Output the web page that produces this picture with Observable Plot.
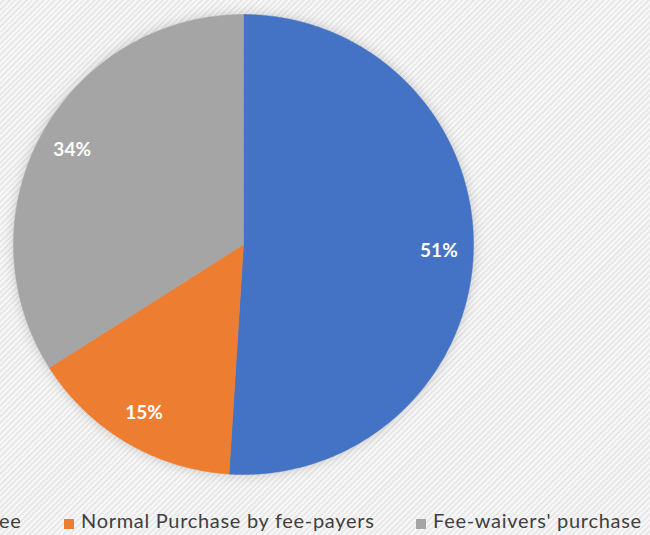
<!DOCTYPE html>
<html>
<head>
<meta charset="utf-8">
<script src="https://cdn.jsdelivr.net/npm/d3@7"></script>
<script src="https://cdn.jsdelivr.net/npm/@observablehq/plot@0.6"></script>
<style>
  html, body { margin: 0; padding: 0; }
  body {
    width: 650px; height: 535px; overflow: hidden; position: relative;
    background: repeating-linear-gradient(135deg, #f7f7f7 0px, #f7f7f7 2px, #e9e9e9 2px, #e9e9e9 4px);
    font-family: Lato, "Open Sans", sans-serif;
  }
  #chart svg { display: block; background: transparent; }
  #legend { position: absolute; left: 0; top: 500px; width: 650px; height: 35px; font-size: 20px; color: #404040; }
  .item { position: absolute; top: 8px; white-space: nowrap; letter-spacing: 0.7px; }
  .sw { display: inline-block; width: 10px; height: 10px; margin-right: 7px; vertical-align: -1px; }
</style>
</head>
<body>
<div id="chart"></div>
<div id="legend"></div>
<script>
const categories = ["Purchase by fee-waivers with waived fee", "Normal Purchase by fee-payers", "Fee-waivers' purchase"];
const shares = [51, 15, 34];
const labels = ["51%", "15%", "34%"];
const colors = ["#4472C4", "#ED7D31", "#A5A5A5"];

const data = categories.map((c, i) => ({category: c, value: shares[i], label: labels[i]}));
const arcs = d3.pie().sort(null).value(d => d.value)(data);

// polygon vertices in unit-circle data space (angle measured clockwise from 12 o'clock)
const pts = [];
arcs.forEach(a => {
  const n = Math.max(2, Math.ceil((a.endAngle - a.startAngle) / 0.01));
  pts.push({category: a.data.category, x: 0, y: 0});
  for (let k = 0; k <= n; k++) {
    const t = a.startAngle + (a.endAngle - a.startAngle) * k / n;
    pts.push({category: a.data.category, x: Math.sin(t), y: Math.cos(t)});
  }
  pts.push({category: a.data.category, x: 0, y: 0});
});
const labelPts = arcs.map(a => {
  const m = (a.startAngle + a.endAngle) / 2;
  return {label: a.data.label, x: 0.85 * Math.sin(m), y: 0.85 * Math.cos(m)};
});

const plot = Plot.plot({
  width: 650,
  height: 500,
  margin: 0,
  x: {domain: [-1, 1], range: [13, 473], axis: null},
  y: {domain: [-1, 1], range: [474, 14], axis: null},
  color: {domain: categories, range: colors},
  style: {background: "transparent", overflow: "visible"},
  marks: [
    Plot.line(pts, {x: "x", y: "y", z: "category", fill: "category", stroke: "category", strokeWidth: 0.5, curve: "linear",
      render: (i, s, v, d, c, next) => { const g = next(i, s, v, d, c); g.style.filter = "drop-shadow(0px 0px 6px rgba(0,0,0,0.18))"; return g; }}),
    Plot.text(labelPts, {x: "x", y: "y", text: "label", fill: "white", fontSize: 19, fontWeight: "bold", fontFamily: "Lato, sans-serif"})
  ]
});
document.getElementById("chart").appendChild(plot);

const legend = document.getElementById("legend");
const lefts = [-360, 64, 416];
categories.forEach((c, i) => {
  const el = document.createElement("div");
  el.className = "item";
  el.style.left = lefts[i] + "px";
  el.innerHTML = `<span class="sw" style="background:${colors[i]}"></span>${c}`;
  legend.appendChild(el);
});
// align first entry so only its end shows at left edge, as in the cropped reference
const first = legend.children[0];
first.style.left = (21 - first.offsetWidth) + "px";
</script>
</body>
</html>
